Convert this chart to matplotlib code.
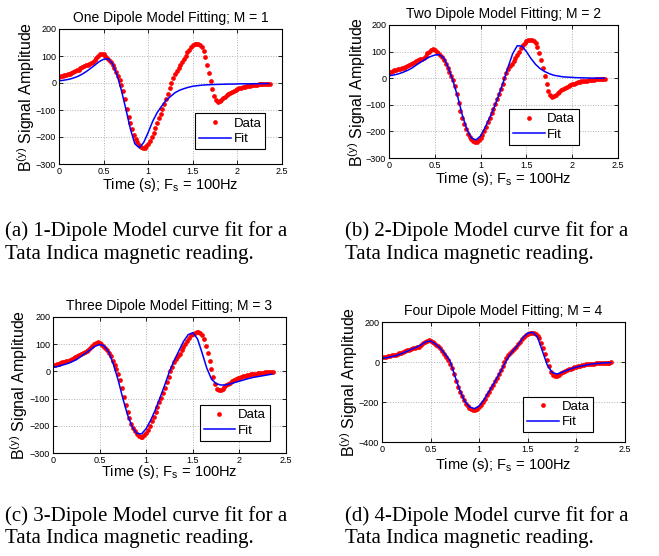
import numpy as np
import matplotlib
matplotlib.use("Agg")
import matplotlib.pyplot as plt

plt.rcParams['font.family'] = ['Liberation Sans', 'DejaVu Sans']
plt.rcParams['mathtext.default'] = 'regular'

# ============================================================
# DATA (100 Hz signal shown every 0.02 s)
# ============================================================
t_data = np.linspace(0, 2.36, 119)
data = [23, 25, 27, 29, 31, 33, 35, 37, 40, 43,
        47, 50, 54, 58, 62, 65, 68, 71, 74, 77,
        85, 93, 100, 106, 109, 106, 100, 94, 86, 78,
        68, 55, 40, 25, 10, -8, -30, -60, -95, -125,
        -150, -172, -192, -208, -220, -230, -237, -241, -240, -234,
        -226, -214, -200, -184, -166, -148, -130, -114, -96, -78,
        -60, -40, -20, 0, 18, 33, 45, 55, 65, 77,
        88, 100, 113, 124, 133, 139, 143, 145, 144, 141,
        132, 118, 95, 68, 38, 8, -22, -48, -64, -69,
        -68, -63, -57, -51, -46, -41, -37, -33, -29, -26,
        -23, -20, -18, -16, -14, -12, -11, -10, -9, -8,
        -7, -6, -5, -4.5, -4, -3.5, -3, -2.5, -2]

# fitted curves, every 0.05 s
t_fit = np.linspace(0, 2.35, 48)
fit_m1 = [8, 10, 13, 17, 23, 31, 41, 53, 66, 79,
          88, 90, 72, 30, -28, -97, -170, -225, -240, -220,
          -183, -142, -110, -86, -64, -50, -36, -27, -21, -16,
          -12, -10, -8, -7, -6, -5.5, -5, -4.5, -4, -4,
          -3.5, -3, -3, -3, -2.5, -2.5, -2, -2]
fit_m2 = [9, 12, 16, 22, 29, 38, 50, 61, 72, 81,
          87, 89, 75, 38, -12, -70, -138, -192, -225, -232,
          -217, -185, -148, -108, -62, -12, 42, 92, 122, 121,
          100, 74, 52, 36, 25, 17, 11, 8, 5, 4,
          3, 2, 1.5, 1, 0.5, 0.3, 0, 0]
fit_m3 = [15, 18, 23, 28, 35, 43, 55, 67, 80, 92,
          99, 94, 70, 24, -33, -100, -160, -204, -228, -230,
          -210, -178, -140, -95, -49, 0, 40, 75, 110, 135,
          142, 120, 68, 12, -28, -45, -50, -50, -46, -41,
          -36, -31, -26, -22, -19, -16, -13, -10]
fit_m4 = [18, 22, 27, 33, 42, 52, 63, 73, 85, 101,
          105, 90, 68, 40, 5, -70, -140, -195, -225, -233,
          -220, -188, -148, -108, -65, -20, 25, 58, 85, 122,
          145, 148, 125, 55, -15, -52, -60, -52, -42, -33,
          -25, -20, -15, -11, -8, -6, -4, -3]

fits = [fit_m1, fit_m2, fit_m3, fit_m4]
titles = ["One Dipole Model Fitting; M = 1",
          "Two Dipole Model Fitting; M = 2",
          "Three Dipole Model Fitting; M = 3",
          "Four Dipole Model Fitting; M = 4"]
captions = [("(a) 1-Dipole Model curve fit for a", "Tata Indica magnetic reading."),
            ("(b) 2-Dipole Model curve fit for a", "Tata Indica magnetic reading."),
            ("(c) 3-Dipole Model curve fit for a", "Tata Indica magnetic reading."),
            ("(d) 4-Dipole Model curve fit for a", "Tata Indica magnetic reading.")]
yticks_abc = [-300, -200, -100, 0, 100, 200]
yticks_d = [-400, -200, 0, 200]
xticks = [0, 0.5, 1, 1.5, 2, 2.5]
xtick_labels = ["0", "0.5", "1", "1.5", "2", "2.5"]

# ============================================================
# LAYOUT (pixel boxes: left, right, top, bottom)
# ============================================================
W, H = 659, 556
boxes = [(59, 282, 29, 164), (389, 618, 25, 158),
         (53, 286, 317, 453), (382, 625, 322, 442)]
leg_anchor = [(0.925, 0.11), (0.83, 0.10), (0.93, 0.09), (0.87, 0.08)]
xlab_pad = [0, 0, -1, 1.5]
ylab_x = [-0.097, -0.092, -0.097, -0.09]
cap_pos = [(5, 231), (345, 231), (5, 516), (345, 516)]

fig = plt.figure(figsize=(W/100, H/100), dpi=100)

for i in range(4):
    l, r, t, b = boxes[i]
    ax = fig.add_axes([l/W, 1 - b/H, (r - l)/W, (b - t)/H])
    ax.plot(t_data, data, 'o', color='red', ms=3.4, mew=0, label='Data')
    ax.plot(t_fit, fits[i], '-', color='blue', lw=1.1, label='Fit')

    ax.set_xlim(0, 2.5)
    ax.set_xticks(xticks)
    ax.set_xticklabels(xtick_labels)
    if i == 3:
        ax.set_ylim(-400, 200)
        ax.set_yticks(yticks_d)
    else:
        ax.set_ylim(-300, 200)
        ax.set_yticks(yticks_abc)

    ax.grid(True, linestyle=':', color='#b0b0b0', lw=0.7)
    ax.tick_params(direction='in', length=3, width=0.6, labelsize=6.5,
                   pad=2, top=True, right=True)
    for s in ax.spines.values():
        s.set_linewidth(0.8)

    ax.set_title(titles[i], fontsize=10, pad=5)
    ax.set_xlabel(r'Time (s); F$_s$ = 100Hz', fontsize=10.5,
                  labelpad=xlab_pad[i])
    ax.set_ylabel(r'B$^{(y)}$ Signal Amplitude', fontsize=11.5)
    ax.yaxis.set_label_coords(ylab_x[i], 0.5)

    leg = ax.legend(loc='lower right', bbox_to_anchor=leg_anchor[i],
                    fontsize=9.5, numpoints=1, fancybox=False,
                    edgecolor='black', framealpha=1, handlelength=2.4,
                    handletextpad=0.2, borderpad=0.3, labelspacing=0.25,
                    borderaxespad=0)
    leg.get_frame().set_linewidth(0.8)

    cx, cy = cap_pos[i]
    fig.text(cx/W, 1 - cy/H, captions[i][0], family='Liberation Serif',
             fontsize=15, va='center', ha='left')
    fig.text(cx/W, 1 - (cy + 23)/H, captions[i][1], family='Liberation Serif',
             fontsize=15, va='center', ha='left')

fig.savefig("out.png", dpi=100)
